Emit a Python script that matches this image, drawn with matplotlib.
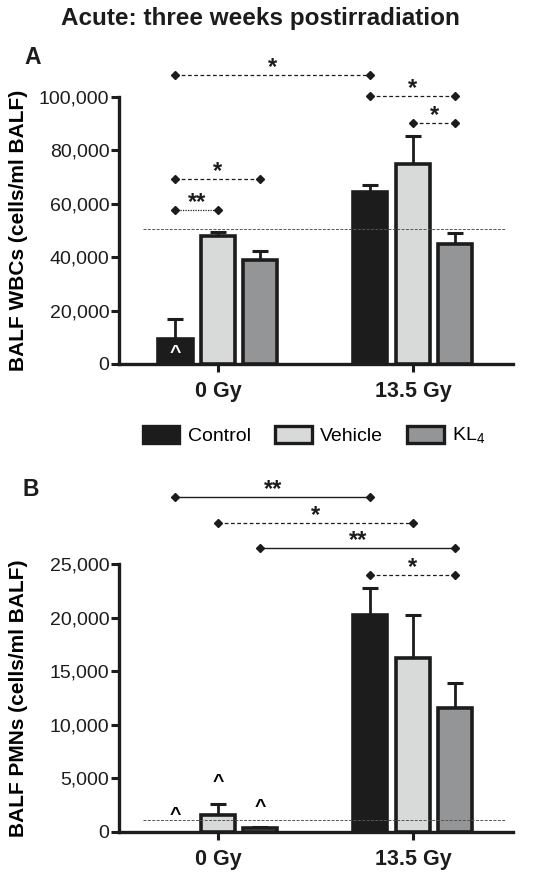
import matplotlib
matplotlib.use("Agg")
import matplotlib.pyplot as plt
import numpy as np
from matplotlib.patches import Patch

plt.rcParams['font.family'] = ['Liberation Sans', 'DejaVu Sans']
plt.rcParams['mathtext.fontset'] = 'custom'
plt.rcParams['mathtext.rm'] = 'Liberation Sans'

groups = ['0 Gy', '13.5 Gy']
series = ['Control', 'Vehicle', 'KL$_\\mathregular{4}$']
colors = ['#1c1c1c', '#d8dada', '#949597']

# Panel A: BALF WBCs
wbc_mean = [[9300, 64500], [48000, 75000], [39000, 45000]]
wbc_err = [[7700, 2500], [1600, 10400], [3200, 3900]]
wbc_ref = 50500

# Panel B: BALF PMNs
pmn_mean = [[0, 20200], [1600, 16200], [400, 11600]]
pmn_err = [[0, 2600], [1000, 4000], [100, 2300]]
pmn_ref = 1100

# brackets: (series_a, group_a, series_b, group_b, y, label, style)
brackets_a = [
    (0, 0, 0, 1, 108200, '*', 'dashed'),
    (0, 1, 2, 1, 100400, '*', 'dashed'),
    (1, 1, 2, 1, 90300, '*', 'dashed'),
    (0, 0, 2, 0, 69400, '*', 'dashed'),
    (0, 0, 1, 0, 57800, '**', 'dotted'),
]
brackets_b = [
    (0, 0, 0, 1, 31250, '**', 'solid'),
    (1, 0, 1, 1, 28800, '*', 'dashed'),
    (2, 0, 2, 1, 26500, '**', 'solid'),
    (0, 1, 2, 1, 24000, '*', 'dashed'),
]

# caret markers: (series, group, y, color)
carets_a = [(0, 0, 3800, 'white')]
carets_b = [(0, 0, 1500, 'black'), (1, 0, 4600, 'black'), (2, 0, 2300, 'black')]

W, H = 536, 882
fig = plt.figure(figsize=(W / 100, H / 100), dpi=100)

left, right = 119 / W, 513 / W
axA = fig.add_axes([left, 1 - 364 / H, right - left, (364 - 97) / H])
axB = fig.add_axes([left, 1 - 832 / H, right - left, (832 - 564) / H])

offsets = np.array([-0.22, 0.0, 0.215])
bw = 0.175
gx = np.arange(len(groups))


def xpos(s, g):
    return gx[g] + offsets[s]


def draw(ax, means, errs, ref, ymax, step, brackets, carets, ylabel):
    for s in range(3):
        xs = gx + offsets[s]
        m = np.array(means[s])
        e = np.array(errs[s])
        keep = m > 0
        ax.bar(xs[keep], m[keep], width=bw, color=colors[s], edgecolor='#1c1c1c',
               linewidth=2.6, zorder=3)
        for x, mv, ev in zip(xs, m, e):
            if ev > 0:
                ax.errorbar([x], [mv], yerr=[[0], [ev]], fmt='none',
                            ecolor='#1c1c1c', elinewidth=2.0, capsize=6,
                            capthick=2.2, zorder=2)
    ax.axhline(ref, xmin=(143 - 119) / (513 - 119), xmax=(505 - 119) / (513 - 119),
               color='#555555', lw=0.7, ls=(0, (3, 1.5)), zorder=4)
    ax.set_xlim(-0.51, 1.513)
    ax.set_ylim(0, ymax)
    ax.set_yticks(np.arange(0, ymax + 1, step))
    ax.set_yticklabels([f'{int(v):,}' for v in np.arange(0, ymax + 1, step)])
    ax.set_xticks(gx)
    ax.set_xticklabels(groups, fontsize=15.5, fontweight='bold')
    for sp in ['top', 'right']:
        ax.spines[sp].set_visible(False)
    for sp in ['left', 'bottom']:
        ax.spines[sp].set_linewidth(2.4)
        ax.spines[sp].set_color('#1c1c1c')
    ax.tick_params(axis='y', labelsize=14, width=2.2, length=6, pad=1,
                   colors='#1c1c1c')
    ax.tick_params(axis='x', width=2.2, length=6, pad=6, colors='#1c1c1c')
    ax.set_ylabel(ylabel, fontsize=15, fontweight='bold')
    ax.yaxis.set_label_coords((28 - 119) / (513 - 119), 0.5)
    for sa, ga, sb, gb, y, lab, style in brackets:
        xa, xb = xpos(sa, ga), xpos(sb, gb)
        if style == 'dashed':
            ls = (0, (3, 2))
            lw = 0.9
        elif style == 'dotted':
            ls = (0, (1, 1))
            lw = 0.9
        else:
            ls = '-'
            lw = 1.0
        ax.plot([xa, xb], [y, y], ls=ls, lw=lw, color='#1c1c1c',
                clip_on=False, zorder=5)
        ax.plot([xa, xb], [y, y], ls='none', marker='D', ms=4.5,
                color='#1c1c1c', clip_on=False, zorder=5)
        ax.annotate(lab, xy=((xa + xb) / 2, y), xytext=(0, -3),
                    textcoords='offset points', ha='center', va='bottom',
                    fontsize=17, fontweight='bold', color='#1c1c1c',
                    annotation_clip=False)
    for s, g, y, c in carets:
        ax.text(xpos(s, g), y, '^', ha='center', va='center', fontsize=14,
                color=c, zorder=6, fontweight='bold')


draw(axA, wbc_mean, wbc_err, wbc_ref, 100000, 20000, brackets_a, carets_a,
     'BALF WBCs (cells/ml BALF)')
draw(axB, pmn_mean, pmn_err, pmn_ref, 25000, 5000, brackets_b, carets_b,
     'BALF PMNs (cells/ml BALF)')

fig.text(260 / W, 1 - 18 / H, 'Acute: three weeks postirradiation',
         ha='center', va='center', fontsize=17.5, fontweight='bold',
         color='#1c1c1c')
fig.text(24 / W, 1 - 58 / H, 'A', ha='left', va='center', fontsize=16.5,
         fontweight='bold', color='#1c1c1c')
fig.text(22 / W, 1 - 490 / H, 'B', ha='left', va='center', fontsize=16.5,
         fontweight='bold', color='#1c1c1c')

handles = [Patch(facecolor=colors[i], edgecolor='#1c1c1c', linewidth=2.4,
                 label=series[i]) for i in range(3)]
fig.legend(handles=handles, loc='center', bbox_to_anchor=(314 / W, 1 - 436 / H),
           ncol=3, frameon=False, fontsize=14, handlelength=1.9,
           handleheight=1.0, handletextpad=0.45, columnspacing=1.2)

fig.savefig('out.png', dpi=100)
